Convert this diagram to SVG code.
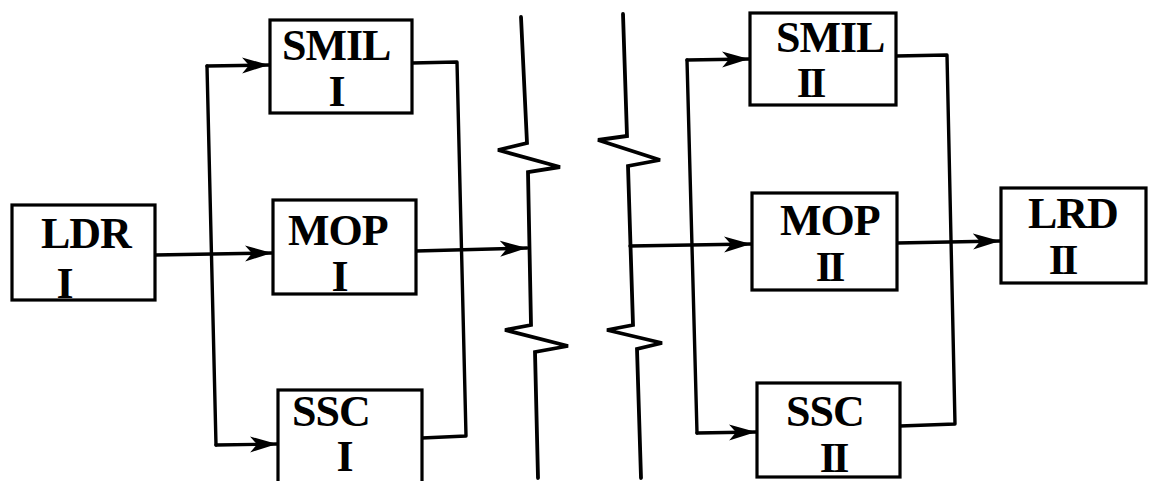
<svg xmlns="http://www.w3.org/2000/svg" width="1151" height="481" viewBox="0 0 1151 481">
  <style>
    .box { fill: #fff; stroke: #000; stroke-width: 3.2; }
    .wire { fill: none; stroke: #000; stroke-width: 3.4; stroke-linejoin: round; stroke-linecap: round; }
    .brk { fill: none; stroke: #000; stroke-width: 3.8; stroke-linejoin: miter; stroke-linecap: round; }
    .lbl { font-family: "Liberation Serif", "Times New Roman", serif; font-weight: bold; font-size: 44px; fill: #000; }
    .name { letter-spacing: -1px; }
    .num { text-anchor: middle; }
    .num2 { font-size: 42px; text-anchor: middle; letter-spacing: -3px; }
  </style>
  <defs>
    <marker id="arr" markerUnits="userSpaceOnUse" markerWidth="30" markerHeight="20" refX="27" refY="9" orient="auto">
      <path d="M0,1 L27,9 L0,17 L7,9 z" fill="#000"/>
    </marker>
  </defs>

  <!-- connectors -->
  <g id="connectors">
    <!-- left side fan-out -->
    <line class="wire" x1="155" y1="255" x2="272" y2="253" marker-end="url(#arr)"/>
    <line class="wire" x1="207" y1="66" x2="216" y2="445"/>
    <line class="wire" x1="207" y1="66" x2="269" y2="65" marker-end="url(#arr)"/>
    <line class="wire" x1="216" y1="445" x2="277" y2="444" marker-end="url(#arr)"/>
    <!-- left side fan-in -->
    <polyline class="wire" points="412,63 457,62 466,436 422,438"/>
    <line class="wire" x1="416" y1="251" x2="527" y2="248" marker-end="url(#arr)"/>

    <!-- break lines -->
    <polyline class="brk" points="521,17 527,143 498,150 560,167 528,172 531,325 505,330 568,346 535,352 538,478"/>
    <polyline class="brk" points="623,14 627,136 598,140 660,160 628,166 633,325 607,330 662,343 637,349 641,478"/>

    <!-- right side fan-out -->
    <line class="wire" x1="630" y1="246" x2="751" y2="244" marker-end="url(#arr)"/>
    <line class="wire" x1="687" y1="60" x2="697" y2="433"/>
    <line class="wire" x1="687" y1="60" x2="749" y2="59" marker-end="url(#arr)"/>
    <line class="wire" x1="697" y1="433" x2="756" y2="432" marker-end="url(#arr)"/>
    <!-- right side fan-in -->
    <polyline class="wire" points="896,56 947,55 955,424 900,426"/>
    <line class="wire" x1="897" y1="243" x2="1000" y2="241" marker-end="url(#arr)"/>
  </g>

  <!-- nodes -->
  <g id="ldr1">
    <rect class="box" x="12" y="205" width="143" height="95"/>
    <text class="lbl"><tspan class="name" x="41" y="248">LDR</tspan><tspan class="num" x="65" y="298">I</tspan></text>
  </g>
  <g id="smil1">
    <rect class="box" x="270" y="20" width="142" height="93"/>
    <text class="lbl"><tspan class="name" x="282" y="60">SMIL</tspan><tspan class="num" x="337" y="106">I</tspan></text>
  </g>
  <g id="mop1">
    <rect class="box" x="273" y="200" width="143" height="94"/>
    <text class="lbl"><tspan class="name" x="288" y="245">MOP</tspan><tspan class="num" x="340" y="291">I</tspan></text>
  </g>
  <g id="ssc1">
    <rect class="box" x="278" y="390" width="144" height="95"/>
    <text class="lbl"><tspan class="name" x="292" y="426">SSC</tspan><tspan class="num" x="345" y="471">I</tspan></text>
  </g>
  <g id="smil2">
    <rect class="box" x="750" y="13" width="146" height="92"/>
    <text class="lbl"><tspan class="name" x="776" y="52">SMIL</tspan><tspan class="num2" x="810" y="97">II</tspan></text>
  </g>
  <g id="mop2">
    <rect class="box" x="752" y="193" width="145" height="97"/>
    <text class="lbl"><tspan class="name" x="780" y="235">MOP</tspan><tspan class="num2" x="829" y="281">II</tspan></text>
  </g>
  <g id="ssc2">
    <rect class="box" x="757" y="383" width="143" height="94"/>
    <text class="lbl"><tspan class="name" x="786" y="426">SSC</tspan><tspan class="num2" x="833" y="472">II</tspan></text>
  </g>
  <g id="lrd2">
    <rect class="box" x="1001" y="188" width="145" height="95"/>
    <text class="lbl"><tspan class="name" x="1028" y="228">LRD</tspan><tspan class="num2" x="1062" y="274">II</tspan></text>
  </g>
</svg>
